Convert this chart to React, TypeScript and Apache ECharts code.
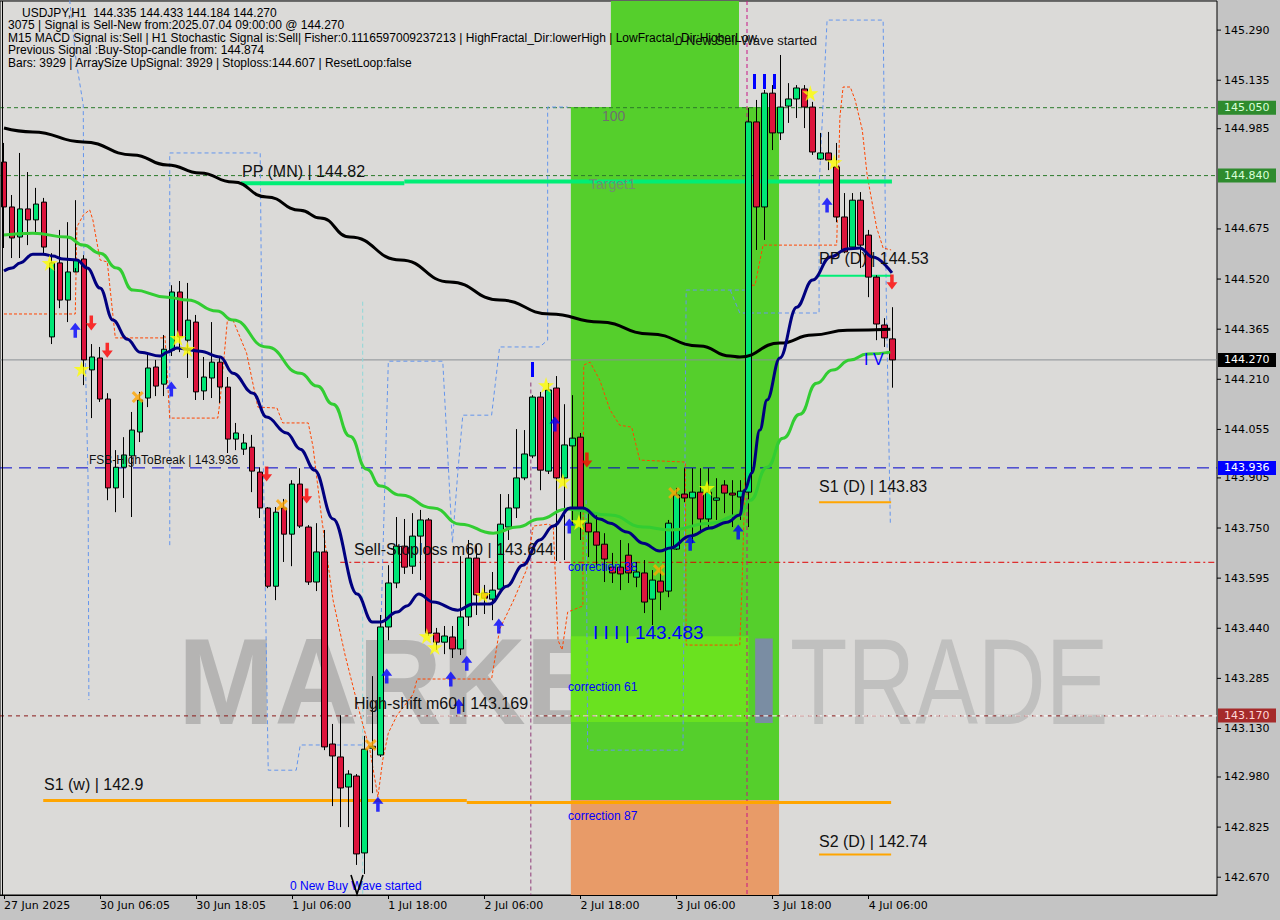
import React, { useEffect, useRef } from "react";
import * as echarts from "echarts";

// ---------- data ----------
const SLOT_COUNT = 152;
const tickLabels = ["27 Jun 2025", "30 Jun 06:05", "30 Jun 18:05", "1 Jul 06:00", "1 Jul 18:00", "2 Jul 06:00", "2 Jul 18:00", "3 Jul 06:00", "3 Jul 18:00", "4 Jul 06:00"];

const opens = [144.882,144.743,144.650,144.737,144.703,144.758,144.341,144.570,144.455,144.542,144.582,144.239,144.276,144.149,143.874,143.938,143.973,144.047,144.152,144.248,144.195,144.300,144.480,144.331,144.387,144.174,144.214,144.263,144.186,144.025,143.994,144.000,143.923,143.812,143.570,143.812,143.731,143.886,143.753,143.583,143.676,143.082,143.042,142.949,142.983,142.745,143.069,143.048,143.444,143.580,143.694,143.632,143.725,143.775,143.425,143.397,143.413,143.376,143.475,143.657,143.549,143.530,143.561,143.753,143.812,143.905,143.973,144.155,143.926,144.183,143.905,144.004,144.031,143.765,143.738,143.700,143.629,143.629,143.666,143.598,143.611,143.530,143.586,143.555,143.685,143.855,143.843,143.861,143.778,143.836,143.883,143.858,143.846,143.861,145.006,144.743,145.095,144.972,145.055,145.077,145.108,145.052,144.891,144.910,144.867,144.712,144.619,144.764,144.656,144.526,144.378,144.335];
const closes = [144.743,144.647,144.737,144.703,144.752,144.619,144.570,144.455,144.542,144.579,144.270,144.279,144.149,143.874,143.938,143.976,144.053,144.146,144.245,144.189,144.303,144.480,144.341,144.393,144.171,144.217,144.263,144.186,144.025,144.044,144.013,143.926,143.812,143.570,143.799,143.731,143.886,143.756,143.583,143.676,143.073,143.045,142.946,142.989,142.742,143.066,143.075,143.444,143.580,143.694,143.629,143.725,143.775,143.425,143.397,143.416,143.376,143.475,143.657,143.543,143.533,143.558,143.762,143.812,143.905,143.979,144.155,143.929,144.177,143.905,144.007,144.028,143.806,143.738,143.697,143.654,143.611,143.608,143.611,143.614,143.521,143.589,143.552,143.765,143.852,143.843,143.861,143.778,143.861,143.843,143.858,143.852,143.864,145.006,144.743,145.095,144.972,145.052,145.077,145.111,145.052,144.913,144.910,144.888,144.712,144.604,144.764,144.625,144.526,144.381,144.338,144.270];
const highs = [144.941,144.780,144.910,144.851,144.802,144.771,144.600,144.672,144.696,144.764,144.594,144.319,144.310,144.167,143.991,144.031,144.109,144.171,144.285,144.270,144.347,144.501,144.514,144.508,144.409,144.279,144.387,144.279,144.217,144.075,144.041,144.038,143.938,143.815,143.815,143.840,143.898,143.935,143.759,143.765,143.744,143.144,143.171,143.001,142.989,143.107,143.292,143.481,143.635,143.784,143.778,143.796,143.806,143.781,143.441,143.447,143.447,143.663,143.713,143.697,143.574,143.614,143.855,143.855,144.056,144.053,144.161,144.171,144.198,144.220,144.133,144.161,144.044,143.799,143.790,143.734,143.673,143.713,143.703,143.645,143.651,143.620,143.629,143.775,143.874,143.935,143.935,143.935,143.935,143.904,143.898,143.898,143.898,145.049,145.074,145.105,145.120,145.213,145.126,145.120,145.120,145.068,144.972,144.975,144.941,144.786,144.786,144.789,144.672,144.532,144.399,144.433];
const lows = [144.616,144.585,144.585,144.625,144.665,144.594,144.319,144.430,144.387,144.554,144.192,144.090,144.140,143.836,143.799,143.843,143.784,144.016,144.124,144.158,144.158,144.282,144.294,144.214,144.146,144.146,144.152,144.137,143.982,143.991,143.976,143.861,143.781,143.564,143.527,143.645,143.632,143.750,143.574,143.555,143.063,142.890,142.825,142.825,142.708,142.680,142.930,143.042,143.403,143.564,143.608,143.608,143.589,143.416,143.373,143.360,143.348,143.357,143.447,143.481,143.484,143.465,143.552,143.713,143.781,143.898,143.966,143.867,143.917,143.648,143.651,143.759,143.713,143.660,143.629,143.583,143.580,143.558,143.580,143.567,143.487,143.450,143.496,143.536,143.682,143.830,143.703,143.734,143.753,143.775,143.796,143.753,143.775,143.753,144.610,144.641,144.919,144.950,145.003,145.018,144.987,144.904,144.888,144.857,144.696,144.600,144.610,144.554,144.464,144.331,144.310,144.184];

// moving averages, read at sampled bar positions [bar, price]
const blackMA = [[0,144.987],[3.6,144.975],[9.9,144.944],[16.1,144.904],[20.4,144.873],[24.5,144.848],[28.6,144.820],[32.8,144.774],[37,144.733],[39.5,144.709],[43.2,144.650],[49.5,144.579],[55.7,144.511],[61.9,144.455],[68.2,144.412],[74.4,144.387],[80.7,144.350],[86.9,144.313],[90.7,144.282],[91.9,144.279],[96.9,144.322],[101,144.347],[105.3,144.362],[110.7,144.365]];
const greenMA = [[0,144.656],[3.6,144.662],[7.9,144.650],[9.9,144.625],[12,144.600],[14.1,144.554],[16.1,144.486],[20.4,144.464],[22.9,144.455],[26.6,144.421],[28.6,144.393],[32.8,144.310],[37,144.229],[39.1,144.189],[41.1,144.133],[43.2,144.034],[45.3,143.932],[47,143.880],[49.5,143.852],[53.6,143.812],[57,143.762],[61.1,143.734],[64.1,143.753],[66.9,143.778],[70.3,143.809],[75.7,143.790],[79.8,143.753],[83.2,143.744],[88.2,143.765],[91.9,143.790],[93.2,143.836],[95.3,143.938],[97.3,144.028],[99.4,144.102],[101.5,144.198],[103.5,144.239],[105.7,144.270],[107.8,144.288],[110.7,144.294]];
const navyMA = [[0,144.545],[1,144.554],[2,144.570],[3.6,144.597],[4.9,144.597],[6.1,144.591],[7.4,144.582],[9.1,144.579],[10.4,144.554],[12,144.492],[13.6,144.393],[15.4,144.334],[17,144.294],[19.5,144.282],[20.4,144.294],[21.6,144.307],[24.5,144.297],[27,144.279],[28.6,144.229],[31.1,144.167],[32.8,144.093],[35.3,144.044],[37,143.994],[38.8,143.929],[41.1,143.778],[44.1,143.546],[46,143.459],[47,143.459],[49.1,143.490],[50.3,143.509],[51.8,143.546],[53.6,143.521],[56.7,143.496],[58.6,143.515],[60.7,143.515],[62.8,143.570],[64.8,143.635],[66.9,143.713],[68.6,143.756],[70.7,143.812],[72.3,143.812],[74.4,143.778],[75.7,143.765],[77.8,143.738],[79.8,143.703],[81.9,143.679],[83.2,143.688],[85.7,143.725],[88.2,143.750],[90.3,143.768],[91.9,143.790],[92.5,143.867],[93.4,143.920],[94.4,144.053],[95.3,144.146],[96.9,144.276],[99,144.433],[101,144.517],[103.2,144.588],[105.3,144.613],[106.9,144.616],[108.5,144.588],[110.9,144.539]];
const stepLine = [[0,144.412],[8.9,144.412],[9.1,144.681],[9.9,144.718],[10.7,144.734],[11.1,144.703],[12,144.579],[12.9,144.573],[13.9,144.338],[19.9,144.338],[20.1,144.344],[20.7,144.090],[26.7,144.090],[27,144.146],[27.9,144.393],[28.6,144.393],[30.3,144.291],[31.7,144.124],[34.1,144.121],[34.8,144.075],[38,144.075],[38.6,144.001],[39.7,143.775],[41.1,143.527],[42.6,143.357],[44.5,143.171],[45.7,143.063],[46.7,142.918],[47.3,143.032],[48,143.116],[49.1,143.171],[51.1,143.236],[51.6,143.283],[60.9,143.283],[61.9,143.437],[63.6,143.524],[65.3,143.623],[66.1,143.756],[67.9,143.762],[68.6,143.756],[69.2,143.403],[69.7,143.373],[70.4,143.490],[72.3,143.509],[72.4,144.254],[73.2,144.263],[74.4,144.208],[75.7,144.115],[76.9,144.068],[78.4,144.062],[79.4,143.960],[85.1,143.954],[85.2,143.388],[91.9,143.388],[92.2,143.589],[92.5,143.858],[92.8,144.146],[92.8,144.501],[93.8,144.501],[94.8,144.625],[104,144.625],[104.4,145.021],[104.8,145.114],[105.7,145.114],[106.3,145.074],[107.2,144.981],[107.8,144.842],[109,144.678],[109.8,144.616],[110.8,144.610]];
const channelA = [[8.2,145.383],[9,145.197],[9.9,145.058],[10,144.455],[10.5,143.898],[10.6,143.218]];
const channelB = [[20.7,143.697],[20.7,144.910],[32,144.910],[32.3,144.084],[33,143.001],[36.5,143.001],[37,143.079],[44.8,143.079]];
const channelC = [[46.7,143.079],[47.3,143.651],[48,144.266],[54.8,144.266],[56,143.704],[56.7,143.929],[57.3,144.099],[60.9,144.099],[61.9,144.310],[66.9,144.310],[67.9,144.331],[67.9,145.052],[70.4,145.052]];
const channelD = [[72.7,143.836],[72.9,143.063],[84.8,143.063],[85.2,144.486],[92.5,144.486]];
const channelE = [[90.7,144.486],[91.9,144.415],[101.8,144.415],[101.8,144.805],[102.8,145.321],[109.8,145.321],[110.2,144.455],[110.7,143.765]];

const stars = [[5.7,144.570],[9.7,144.242],[21.7,144.338],[22.9,144.304],[52.8,143.416],[53.8,143.382],[59.8,143.543],[67.7,144.192],[69.8,143.895],[71.8,143.768],[87.8,143.874],[100.7,145.095],[103.7,144.882]];
const crosses = [[16.7,144.155],[34.7,143.821],[45.8,143.079],[81.8,143.620],[83.7,143.858]];
const upArrows = [[8.9,144.362],[20.9,144.180],[46.7,142.896],[47.8,143.292],[55.8,143.283],[56.8,143.199],[57.8,143.332],[61.8,143.447],[68.8,144.072],[70.6,143.756],[85.7,143.703],[91.7,143.738],[102.8,144.749]];
const downArrows = [[10.9,144.384],[12.9,144.300],[32.8,143.917],[37.8,143.849],[72.8,143.960],[110.9,144.511]];

const priceTicks = [145.290,145.135,144.985,144.675,144.520,144.365,144.210,144.055,143.905,143.750,143.595,143.440,143.285,143.130,142.980,142.825,142.670];
const priceTags = [
  { v: 145.050, bg: "#2e8b2e", fg: "#d8ffd8" },
  { v: 144.840, bg: "#2e8b2e", fg: "#d8ffd8" },
  { v: 144.270, bg: "#000000", fg: "#ffffff" },
  { v: 143.936, bg: "#0000ff", fg: "#ffffff" },
  { v: 143.170, bg: "#a52a2a", fg: "#ffd8d8" },
];
const levelPPmn = 144.82, levelPPd = 144.53, levelS1d = 143.83, levelS2d = 142.74, levelS1w = 142.9;
const levelFsb = 143.936, levelSellStop = 143.644, levelHighShift = 143.169, levelLast = 144.270;
const levelUpperA = 145.050, levelUpperB = 144.840;

// zones [fromBar, toBar, topPrice, bottomPrice]
const greenZone = [70.8, 96.8, 145.052, 142.909];
const greenTop = [75.8, 91.8, 145.38, 145.052];
const salmonZone = [70.8, 96.8, 142.909, 142.615];
const lightBand = [70.8, 93.0, 143.415, 143.150];

const categories = Array.from({ length: SLOT_COUNT }, (_, i) => String(i));
const isTick = (i: number) => i % 12 === 0 && i / 12 < tickLabels.length;

const STAR = "path://M50,0 L61,35 L98,35 L68,57 L79,91 L50,70 L21,91 L32,57 L2,35 L39,35 Z";
const CROSS = "path://M0,18 L18,0 L50,32 L82,0 L100,18 L68,50 L100,82 L82,100 L50,68 L18,100 L0,82 L32,50 Z";
const UP = "path://M50,0 L100,48 L66,48 L66,100 L34,100 L34,48 L0,48 Z";
const DOWN = "path://M34,0 L66,0 L66,52 L100,52 L50,100 L0,52 L34,52 Z";

const ln = (data: any, color: string, width: number, type: any = "solid", z = 4, smooth: any = false) => ({
  type: "line", xAxisIndex: 1, yAxisIndex: 0, data, symbol: "none", silent: true,
  lineStyle: { color, width, type }, smooth, smoothMonotone: smooth ? "x" : undefined, z,
});
const seg = (a: number, b: number, p: number) => [[a, p], [b, p]];
const sc = (data: any, symbol: string, size: any, color: string) => ({
  type: "scatter", xAxisIndex: 1, yAxisIndex: 0, data, symbol, symbolSize: size, silent: true,
  itemStyle: { color }, z: 7,
});

const FONT = "'Liberation Sans', Arial, sans-serif";

export default function App() {
  const ref = useRef<HTMLDivElement>(null);
  useEffect(() => {
    const chart = echarts.init(ref.current!, null, { renderer: "svg" });
    const option: any = {
      animation: false,
      backgroundColor: "#c4c4c4",
      grid: { left: 0, right: 63, top: 1, bottom: 25, show: true, backgroundColor: "#dbdad8", borderColor: "#000", borderWidth: 1 },
      xAxis: [
        {
          type: "category", data: categories, boundaryGap: true,
          axisLine: { show: true, lineStyle: { color: "#000", width: 1 } },
          axisTick: { show: true, alignWithLabel: true, interval: (i: number) => isTick(i), length: 4, lineStyle: { color: "#000" } },
          axisLabel: {
            interval: (i: number) => isTick(i), formatter: (_v: string, i: number) => tickLabels[i / 12] || "",
            align: "left", margin: 5, fontFamily: "DejaVu Sans", fontSize: 11, color: "#000",
          },
          splitLine: { show: false },
        },
        { type: "value", min: -0.5, max: SLOT_COUNT - 0.5, show: false },
      ],
      yAxis: { type: "value", min: 142.615, max: 145.38, show: false, splitLine: { show: false } },
      series: [
        // reference levels
        ln(seg(-0.5, 151.5, levelUpperA), "#2a7a2a", 1, [4, 3], 3),
        ln(seg(-0.5, 151.5, levelUpperB), "#2a7a2a", 1, [4, 3], 3),
        ln(seg(-0.5, 151.5, levelLast), "#8a8f94", 1, "solid", 3),
        ln(seg(-0.5, 151.5, levelFsb), "#0000cc", 1, [12, 7], 3),
        ln(seg(42, 151.5, levelSellStop), "#e00000", 1, [6, 3, 2, 3], 3),
        ln(seg(-0.5, 151.5, levelHighShift), "#8b1a1a", 1, [4, 4], 3),
        ln(seg(42, 151.5, levelHighShift), "#ffffff", 1, [5, 4], 3),
        ln(seg(4.9, 57.8, levelS1w + 0.007), "#ffa500", 3, "solid", 4),
        ln(seg(57.8, 110.8, levelS1w + 0.001), "#ffa500", 3, "solid", 4),
        ln(seg(29.6, 50, levelPPmn - 0.004), "#00ee76", 4, "solid", 4),
        ln(seg(50, 110.9, levelPPmn + 0.002), "#00ee76", 4, "solid", 4),
        ln(seg(101.8, 110.8, levelPPd), "#00ee76", 2, "solid", 4),
        ln(seg(101.8, 110.8, levelS1d), "#ffa500", 2, "solid", 4),
        ln(seg(101.8, 110.8, levelS2d), "#ffa500", 2, "solid", 4),
        // vertical markers
        ln([[65.8, 144.2], [65.8, 142.615]], "#8e3a78", 1, [4, 3], 3),
        ln([[92.8, 145.38], [92.8, 142.615]], "#c71585", 1, [4, 3], 3),
        ln([[44.8, 144.45], [44.8, 142.615]], "#8fd8d8", 1, [4, 3], 3),
        // channels
        ln(channelA, "#6495ed", 1, [4, 3], 3),
        ln(channelB, "#6495ed", 1, [4, 3], 3),
        ln(channelC, "#6495ed", 1, [4, 3], 3),
        ln(channelD, "#6495ed", 1, [4, 3], 3),
        ln(channelE, "#6495ed", 1, [4, 3], 3),
        ln(stepLine, "#ff4500", 1, [3, 2], 3),
        {
          type: "candlestick", xAxisIndex: 0, yAxisIndex: 0, barWidth: 6, z: 5, silent: true,
          data: opens.map((o, i) => [o, closes[i], lows[i], highs[i]]),
          itemStyle: { color: "#00e676", color0: "#dc143c", borderColor: "#000", borderColor0: "#000", borderWidth: 1 },
        },
        ln(blackMA, "#000000", 3, "solid", 6, 0.5),
        ln(greenMA, "#32cd32", 3, "solid", 6, 0.5),
        ln(navyMA, "#00007f", 3, "solid", 6, 0.4),
        sc(stars, STAR, 16, "#ffff00"),
        sc(crosses, CROSS, 12, "#ffa500"),
        sc(upArrows, UP, [11, 15], "#0000ff"),
        sc(downArrows, DOWN, [11, 15], "#ff0000"),
      ],
    };
    chart.setOption(option);

    const P = (i: number, p: number) => chart.convertToPixel({ xAxisIndex: 1, yAxisIndex: 0 }, [i, p]) as number[];
    const Y = (p: number) => chart.convertToPixel({ yAxisIndex: 0 }, p) as number;
    const zoneRect = (z: number[], fill: string, zz: number) => {
      const a = P(z[0], z[2]);
      const b = P(z[1], z[3]);
      return { type: "rect", z: zz, silent: true, shape: { x: a[0], y: a[1], width: b[0] - a[0], height: b[1] - a[1] }, style: { fill } };
    };
    const txt = (x: number, y: number, text: string, size: number, fill: string, extra: any = {}) => ({
      type: "text", x, y, z: 9, silent: true,
      style: { text, fill, fontSize: size, fontFamily: FONT, align: "left", textAlign: "left", verticalAlign: "middle", textVerticalAlign: "middle", ...extra },
    });

    const g: any[] = [];
    // watermark
    g.push({ type: "text", x: 178, y: 681, z: 1, scaleX: 0.95, silent: true, style: { text: "MARKETZ", fill: "rgba(150,150,150,0.55)", fontSize: 122, fontWeight: "bold", fontFamily: FONT, verticalAlign: "middle", textVerticalAlign: "middle" } });
    g.push({ type: "text", x: 790, y: 681, z: 1, scaleX: 0.77, silent: true, style: { text: "TRADE", fill: "rgba(165,165,165,0.5)", fontSize: 122, fontFamily: FONT, verticalAlign: "middle", textVerticalAlign: "middle" } });
    // zones
    g.push(zoneRect(greenZone, "#55cf2c", 2));
    g.push(zoneRect(greenTop, "#55cf2c", 2));
    g.push(zoneRect(salmonZone, "#e89b68", 2));
    g.push(zoneRect(lightBand, "#6ae21f", 2));
    g.push({ type: "text", x: 747, y: 681, z: 2, silent: true, style: { text: "I", fill: "#7a8da3", fontSize: 122, fontWeight: "bold", fontFamily: FONT, verticalAlign: "middle", textVerticalAlign: "middle" } });
    // left frame
    g.push({ type: "line", z: 9, silent: true, shape: { x1: 2.5, y1: 1, x2: 2.5, y2: 895 }, style: { stroke: "#000", lineWidth: 1 } });
    // header
    const header = [
      "USDJPY,H1  144.335 144.433 144.184 144.270",
      "3075 | Signal is Sell-New from:2025.07.04 09:00:00 @ 144.270",
      "M15 MACD Signal is:Sell | H1 Stochastic Signal is:Sell| Fisher:0.1116597009237213 | HighFractal_Dir:lowerHigh | LowFractal_Dir:HigherLow",
      "Previous Signal :Buy-Stop-candle from: 144.874",
      "Bars: 3929 | ArraySize UpSignal: 3929 | Stoploss:144.607 | ResetLoop:false",
    ];
    header.forEach((t, k) => g.push(txt(k === 0 ? 22 : 8, 13 + k * 12.4, t, 12, "#000")));
    g.push(txt(817, 40, "0 New Sell Wave started", 13, "#111", { align: "right", textAlign: "right" }));
    // annotations
    g.push(txt(242, 171, "PP (MN) | 144.82", 16, "#111"));
    g.push(txt(819, 258, "PP (D) | 144.53", 16, "#111"));
    g.push(txt(819, 486, "S1 (D) | 143.83", 16, "#111"));
    g.push(txt(819, 841, "S2 (D) | 142.74", 16, "#111"));
    g.push(txt(44, 784, "S1 (w) | 142.9", 16, "#111"));
    g.push(txt(89, 460, "FSB-HighToBreak | 143.936", 12, "#111"));
    g.push(txt(354, 549, "Sell-Stoploss m60 | 143.644", 16, "#111"));
    g.push(txt(354, 703, "High-shift m60 | 143.169", 16, "#111"));
    g.push(txt(593, 632, "I I I | 143.483", 19, "#0000ff"));
    g.push(txt(568, 567, "correction 38", 12, "#0000ff"));
    g.push(txt(568, 687, "correction 61", 12, "#0000ff"));
    g.push(txt(568, 816, "correction 87", 12, "#0000ff"));
    g.push(txt(290, 886, "0 New Buy Wave started", 12, "#0000ff"));
    g.push(txt(602, 116, "100", 14, "#6f6f6f"));
    g.push(txt(589, 184, "Target1", 14, "#6f8f6f"));
    g.push(txt(864, 359, "I V", 16, "#0000ff"));
    // black V mark
    g.push({ type: "polyline", z: 9, silent: true, shape: { points: [[351, 875], [357, 894], [363, 875]] }, style: { stroke: "#000", lineWidth: 1.6, fill: "none" } });
    [753, 763, 773].forEach((x) => g.push({ type: "rect", z: 9, silent: true, shape: { x, y: 74, width: 3, height: 15 }, style: { fill: "#0000ff" } }));
    g.push({ type: "rect", z: 9, silent: true, shape: { x: 531, y: 362, width: 3, height: 15 }, style: { fill: "#0000ff" } });
    // y axis labels
    priceTicks.forEach((v) => {
      const y = Y(v);
      g.push({ type: "line", z: 9, silent: true, shape: { x1: 1217, y1: y, x2: 1221, y2: y }, style: { stroke: "#000", lineWidth: 1 } });
      g.push({ type: "text", x: 1224, y, z: 9, silent: true, style: { text: v.toFixed(3), fill: "#000", fontSize: 11, fontFamily: "DejaVu Sans", verticalAlign: "middle", textVerticalAlign: "middle" } });
    });
    priceTags.forEach((t) => {
      const y = Y(t.v);
      g.push({ type: "rect", z: 10, silent: true, shape: { x: 1218, y: y - 7, width: 58, height: 14 }, style: { fill: t.bg } });
      g.push({ type: "text", x: 1224, y, z: 11, silent: true, style: { text: t.v.toFixed(3), fill: t.fg, fontSize: 11, fontFamily: "DejaVu Sans", verticalAlign: "middle", textVerticalAlign: "middle" } });
    });
    chart.setOption({ graphic: g });
    return () => chart.dispose();
  }, []);
  return <div ref={ref} style={{ position: "absolute", left: 0, top: 0, width: 1280, height: 920 }} />;
}
